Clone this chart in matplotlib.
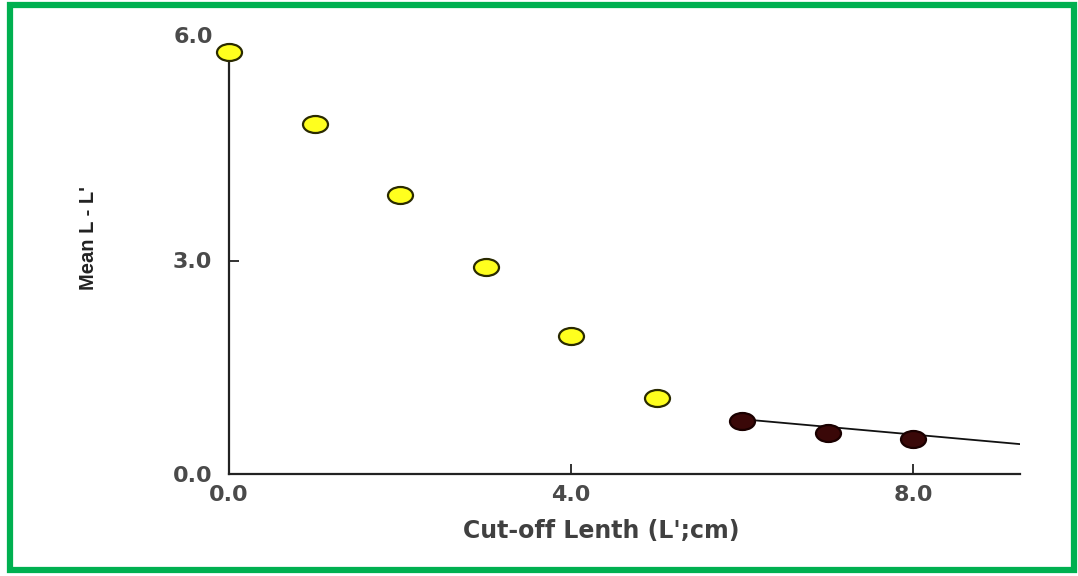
import numpy as np
import matplotlib
matplotlib.use('Agg')
import matplotlib.pyplot as plt
from matplotlib.path import Path
from matplotlib.patches import Rectangle

# ---- data ----
open_x = [0, 1, 2, 3, 4, 5]
open_y = [5.93, 4.92, 3.92, 2.91, 1.94, 1.07]
filled_x = [6, 7, 8]
filled_y = [0.74, 0.58, 0.49]
fit_x = [6.0, 9.25]
fit_y = [0.77, 0.42]

x_ticks = [0.0, 4.0, 8.0]
y_ticks = [0.0, 3.0, 6.0]

# squashed circle marker (source image is stretched horizontally)
circ = Path.unit_circle()
ellipse = Path(circ.vertices * np.array([1.0, 0.68]), circ.codes)

fig = plt.figure(figsize=(10.78, 5.76), dpi=100)
ax = fig.add_axes([229 / 1078, 1 - 474 / 576, (1020 - 229) / 1078, (474 - 47) / 576])

ax.plot(fit_x, fit_y, color='#111111', lw=1.3, zorder=2)
ax.plot(open_x, open_y, ls='none', marker=ellipse, ms=18, mfc='#FFFF1E',
        mec='#2a2a00', mew=1.6, zorder=3, clip_on=False)
ax.plot(filled_x, filled_y, ls='none', marker=ellipse, ms=18, mfc='#3a0808',
        mec='#1a0000', mew=1.6, zorder=3, clip_on=False)

ax.set_xlim(0, 9.25)
ax.set_ylim(0, 6.0)
ax.set_xticks(x_ticks)
ax.set_yticks(y_ticks)
ax.set_xticklabels([f'{v:.1f}' for v in x_ticks], fontweight='bold')
# top label sits a little above its tick in the original, so it is drawn apart
ax.set_yticklabels([f'{v:.1f}' for v in y_ticks[:-1]] + [''], fontweight='bold')
ax.annotate(f'{y_ticks[-1]:.1f}', xy=(0, y_ticks[-1]), xycoords='data',
            xytext=(-11.5, 7), textcoords='offset points', ha='right', va='center',
            fontsize=16, fontweight='bold', color='#4a4a4a', annotation_clip=False)

for s in ['top', 'right']:
    ax.spines[s].set_visible(False)
for s in ['left', 'bottom']:
    ax.spines[s].set_color('#222222')
    ax.spines[s].set_linewidth(1.6)

ax.tick_params(direction='in', length=7, width=1.3, color='#222222',
               labelsize=16, labelcolor='#4a4a4a')
ax.tick_params(axis='x', pad=8)
ax.tick_params(axis='y', pad=12)

fig.text(601 / 1078, 1 - 531 / 576, "Cut-off Lenth (L';cm)", ha='center', va='center',
         fontsize=17, fontweight='bold', color='#404040')
fig.text(88 / 1078, 1 - 238 / 576, "Mean L - L'", ha='center', va='center',
         rotation=90, fontsize=14.5, fontweight='bold', color='#222222',
         family=['Liberation Sans', 'DejaVu Sans'])

# green frame round the picture
fig.patches.append(Rectangle((10 / 1078, 6 / 576), 1064 / 1078, 565 / 576,
                             transform=fig.transFigure, fill=False,
                             edgecolor='#00B050', lw=4.5))

fig.savefig('out.png', dpi=100)
